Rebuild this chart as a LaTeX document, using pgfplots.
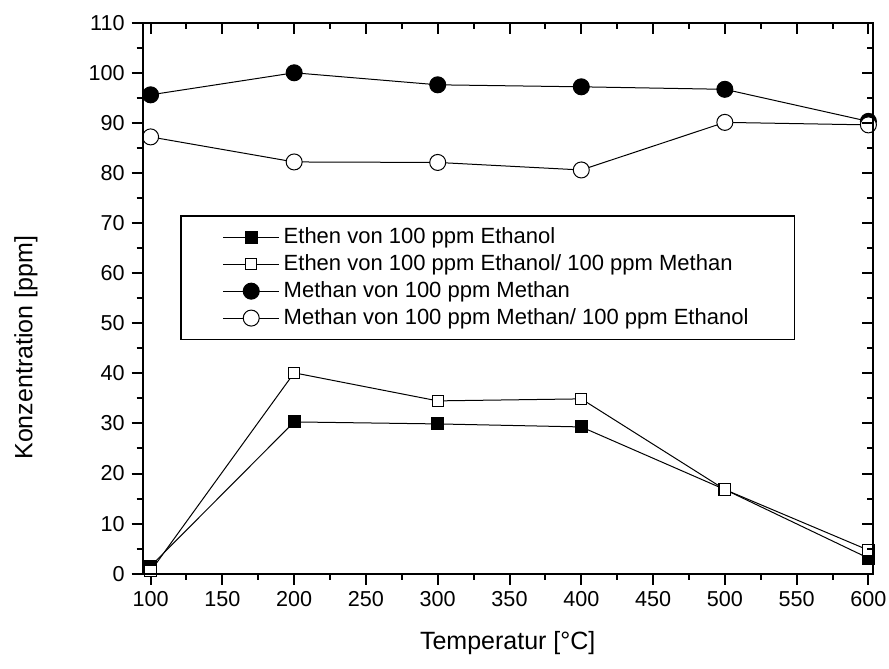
\documentclass[border=0pt]{standalone}
\usepackage{fontspec}
\setmainfont{Liberation Sans}
\usepackage{pgfplots}
\pgfplotsset{compat=1.18}
\begin{document}
\begin{tikzpicture}
\useasboundingbox (-71.35pt,-47.5pt) rectangle (373.15pt,286.85pt);
\pgfplotsset{
  common/.style={
    width=365pt, height=275.5pt, scale only axis,
    xmin=94.5, xmax=603, ymin=0, ymax=110,
    xtick={100,150,...,600}, ytick={0,10,...,110},
    minor x tick num=1, minor y tick num=1,
    axis line style={line width=1pt},
    major tick length=5.5pt, minor tick length=3pt,
    every tick/.style={line width=1pt,black},
  }
}
\begin{axis}[common,
  at={(0,0)}, anchor=south west,
  tick align=outside, xtick pos=bottom, ytick pos=left,
  /pgf/number format/assume math mode=true,
  tick label style={font=\fontsize{10.8}{12}\selectfont},
  xlabel={Temperatur [°C]}, ylabel={Konzentration [ppm]},
  every axis x label/.style={at={(axis description cs:0.5,-0.125)},anchor=center,font=\fontsize{12.5}{15}\selectfont},
  every axis y label/.style={at={(axis description cs:-0.16,0.41)},rotate=90,anchor=center,font=\fontsize{12.5}{15}\selectfont},
  legend style={at={(axis description cs:0.051,0.651)}, anchor=north west,
    font=\fontsize{11}{12.25}\selectfont, draw=black, line width=0.8pt,
    inner xsep=21pt, inner ysep=4pt, row sep=0pt,
    cells={anchor=west}},
  legend cell align=left,
  legend image code/.code={\draw[mark repeat=2,mark phase=2,#1] plot coordinates {(0pt,0pt) (14pt,0pt) (28pt,0pt)};},
]
\addplot[black, line width=0.5pt, mark=square*, mark size=3pt, mark options={fill=black, line width=0.5pt}] coordinates {
(100,1.5) (200,30.3) (300,29.9) (400,29.3) (500,16.8) (600,3.1)};
\addlegendentry{Ethen von 100 ppm Ethanol}
\addplot[black, line width=0.5pt, mark=square*, mark size=2.8pt, mark options={fill=white, line width=0.5pt}] coordinates {
(100,0.5) (200,40.1) (300,34.5) (400,34.9) (500,16.8) (600,4.7)};
\addlegendentry{Ethen von 100 ppm Ethanol/ 100 ppm Methan}
\addplot[black, line width=0.5pt, mark=*, mark size=4pt, mark options={fill=black, line width=0.5pt}] coordinates {
(100,95.6) (200,100) (300,97.6) (400,97.2) (500,96.7) (600,90.3)};
\addlegendentry{Methan von 100 ppm Methan}
\addplot[black, line width=0.5pt, mark=*, mark size=4pt, mark options={fill=white, line width=0.5pt}] coordinates {
(100,87.2) (200,82.2) (300,82.1) (400,80.6) (500,90.1) (600,89.6)};
\addlegendentry{Methan von 100 ppm Methan/ 100 ppm Ethanol}
\end{axis}
\begin{axis}[common,
  at={(0,0)}, anchor=south west,
  tick align=inside, xtick pos=top, ytick pos=right,
  xticklabels={}, yticklabels={},
]
\end{axis}
\end{tikzpicture}
\end{document}
